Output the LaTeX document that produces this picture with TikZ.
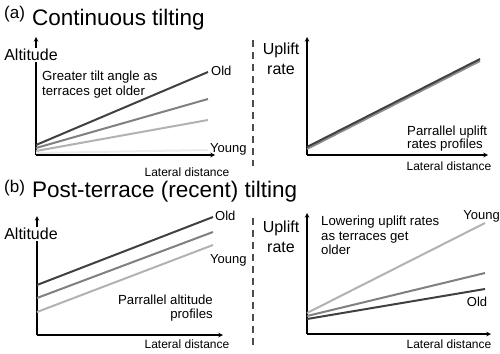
\documentclass[tikz,border=0pt]{standalone}
\usepackage{fontspec}
\setmainfont{Liberation Sans}
\usepackage{tikz}

\begin{document}
\begin{tikzpicture}[x=1pt, y=-1pt, >=stealth,
    axisline/.style={->, line width=1.1pt, black},
    axislabel/.style={font=\fontsize{16}{20}\selectfont, align=center, fill=white, inner sep=1pt},
    distlabel/.style={font=\fontsize{12}{13}\selectfont, inner sep=0pt},
    note/.style={font=\fontsize{13.2}{14.5}\selectfont, inner sep=0pt},
    agelabel/.style={font=\fontsize{13}{14}\selectfont, inner sep=0pt},
    profile/.style={line width=2pt},
    divider/.style={line width=1.4pt, black!70, dash pattern=on 7pt off 5pt}]
  \useasboundingbox (0,0) rectangle (500,353);

  % Titles
  \node[anchor=base west, inner sep=0pt, font=\fontsize{17}{17}\selectfont] (tagA) at (4,19) {(a)};
  \node[anchor=base west, inner sep=0pt, font=\fontsize{22.5}{22.5}\selectfont] (titleA) at (32,26) {Continuous tilting};
  \node[anchor=base west, inner sep=0pt, font=\fontsize{17}{17}\selectfont] (tagB) at (4,192) {(b)};
  \node[anchor=base west, inner sep=0pt, font=\fontsize{22.5}{22.5}\selectfont] (titleB) at (32,197) {Post-terrace (recent) tilting};

  % Divider
  \draw[divider] (253,40) -- (253,166);
  \draw[divider] (253,218) -- (253,345);

  % (a) left: altitude
  \coordinate (oAL) at (36,155);
  \draw[axisline] (oAL) -- (36,37);
  \draw[axisline] (oAL) -- (215,155);
  \node[axislabel] (altA) at (31,55) {Altitude};
  \node[distlabel] (distAL) at (187,172) {Lateral distance};
  \draw[profile, black!8] (36,153) -- (208,150);
  \draw[profile, black!30] (36,151) -- (208,120);
  \draw[profile, black!50] (36,148) -- (208,99);
  \draw[profile, black!75] (36,145) -- (208,72);
  \node[agelabel, anchor=west] (oldAL) at (211,71) {Old};
  \node[agelabel, anchor=west] (youngAL) at (210,149) {Young};
  \node[note, anchor=north west, align=left] (noteAL) at (42,71)
    {Greater tilt angle as\\terraces get older};

  % (a) right: uplift rate
  \coordinate (oAR) at (307,155);
  \draw[axisline] (oAR) -- (307,37);
  \draw[axisline] (oAR) -- (488,155);
  \node[axislabel] (upA) at (281,59) {Uplift\\rate};
  \node[distlabel] (distAR) at (449,166) {Lateral distance};
  \draw[profile, black!45] (307,149) -- (480,61);
  \draw[profile, black!75] (307,147) -- (480,59);
  \node[note, anchor=north west, align=left, font=\fontsize{13.2}{12.5}\selectfont] (noteAR) at (407,126)
    {Parrallel uplift\\rates profiles};

  % (b) left: altitude
  \coordinate (oBL) at (37,335);
  \draw[axisline] (oBL) -- (37,216);
  \draw[axisline] (oBL) -- (223,335);
  \node[axislabel] (altB) at (31,234) {Altitude};
  \node[distlabel] (distBL) at (187,344) {Lateral distance};
  \draw[profile, black!75] (37,285) -- (213,217);
  \draw[profile, black!50] (37,298) -- (213,232);
  \draw[profile, black!30] (37,312) -- (213,245);
  \node[agelabel, anchor=west] (oldBL) at (215,216) {Old};
  \node[agelabel, anchor=west] (youngBL) at (210,260) {Young};
  \node[note, anchor=north east, align=right, font=\fontsize{13.2}{13.5}\selectfont] (noteBL) at (213,295)
    {Parrallel altitude\\profiles};

  % (b) right: uplift rate
  \coordinate (oBR) at (307,334);
  \draw[axisline] (oBR) -- (307,213);
  \draw[axisline] (oBR) -- (491,334);
  \node[axislabel] (upB) at (281,237) {Uplift\\rate};
  \node[distlabel] (distBR) at (449,344) {Lateral distance};
  \draw[profile, black!30] (307,313) -- (485,223);
  \draw[profile, black!50] (307,316) -- (485,273);
  \draw[profile, black!75] (307,319) -- (485,289);
  \node[agelabel, anchor=east] (youngBR) at (500,216) {Young};
  \node[agelabel] (oldBR) at (477,302) {Old};
  \node[note, anchor=north west, align=left] (noteBR) at (321,216)
    {Lowering uplift rates\\as terraces get\\older};
\end{tikzpicture}
\end{document}
